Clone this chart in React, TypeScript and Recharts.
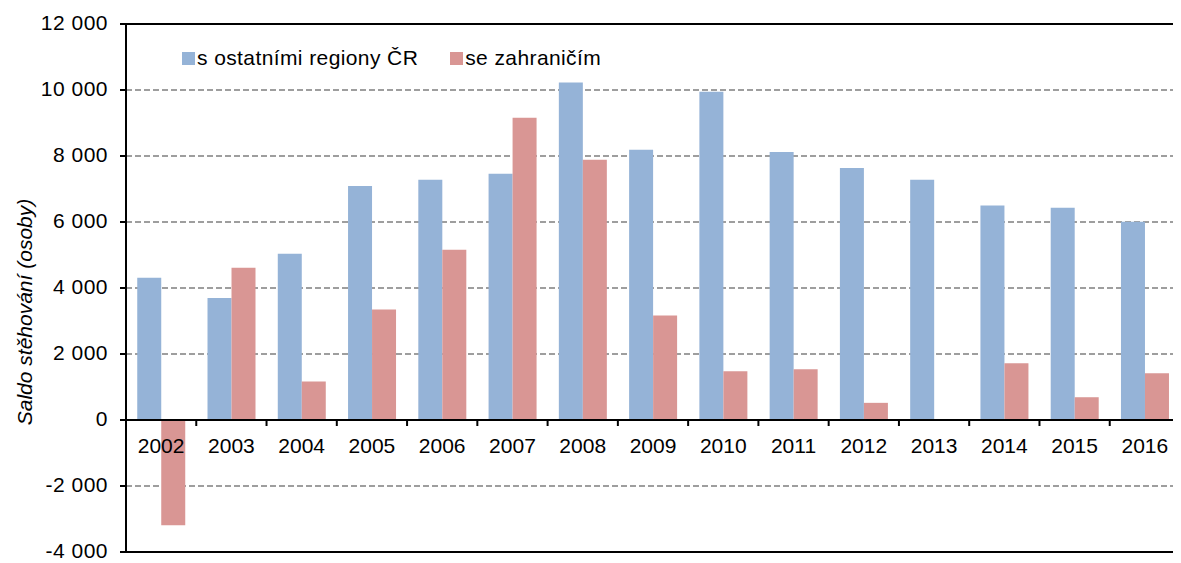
import React from 'react';
import { BarChart, Bar, XAxis, YAxis, CartesianGrid, ReferenceLine } from 'recharts';

const years = ['2002', '2003', '2004', '2005', '2006', '2007', '2008', '2009', '2010', '2011', '2012', '2013', '2014', '2015', '2016'];
const regionsCR = [4310, 3700, 5040, 7090, 7280, 7460, 10230, 8190, 9950, 8120, 7640, 7280, 6500, 6430, 6010];
const abroad = [-3190, 4610, 1170, 3350, 5160, 9160, 7890, 3170, 1480, 1540, 520, 20, 1720, 690, 1420];
const seriesNames = ['s ostatními regiony ČR', 'se zahraničím'];
const seriesColors = ['#95B3D7', '#D99694'];
const yTicks = [-4000, -2000, 0, 2000, 4000, 6000, 8000, 10000, 12000];
const yTitle = 'Saldo stěhování (osoby)';

const Y_MIN = -4000;
const Y_MAX = 12000;
const CHART_W = 1173;
const CHART_H = 555;
const M = { top: 16, right: 1, bottom: 10, left: 0 };
const X_H = 1;
const Y_W = 118;
const PLOT_H = CHART_H - M.top - M.bottom - X_H;
const PLOT_W = CHART_W - M.left - M.right - Y_W;
const ZERO_SHIFT = (PLOT_H * (0 - Y_MIN)) / (Y_MAX - Y_MIN);
const FONT = '"Liberation Sans", Arial, sans-serif';

const data = years.map((y, i) => ({ year: y, regions: regionsCR[i], abroad: abroad[i] }));

const fmt = (v: number) => {
  const s = Math.abs(v).toString().replace(/\B(?=(\d{3})+(?!\d))/g, ' ');
  return (v < 0 ? '-' : '') + s;
};

function XTick(props: any) {
  const { x, y, payload } = props;
  const zy = y - ZERO_SHIFT;
  const half = payload && payload.offset ? payload.offset : PLOT_W / (2 * years.length);
  return (
    <g>
      <line x1={x - half} x2={x - half} y1={zy} y2={zy + 6} stroke="#000" strokeWidth={2} />
      <text x={x} y={zy + 26} dy="0.35em" textAnchor="middle" fontSize={21} fill="#000" fontFamily={FONT}>
        {payload.value}
      </text>
    </g>
  );
}

function YTick(props: any) {
  const { x, y, payload } = props;
  return (
    <text x={x} y={y - 1.5} dy="0.35em" textAnchor="end" fontSize={21} letterSpacing={0.5} fill="#000" fontFamily={FONT}>
      {fmt(payload.value)}
    </text>
  );
}

function YTitle(props: any) {
  const vb = props.viewBox || { x: 0, y: 0, width: 0, height: 0 };
  const cx = vb.x + 16;
  const cy = vb.y + vb.height / 2 + 24;
  return (
    <text
      x={cx}
      y={cy}
      transform={`rotate(-90 ${cx} ${cy})`}
      textAnchor="middle"
      dominantBaseline="central"
      fontSize={21}
      fontStyle="italic"
      fill="#000"
      fontFamily={FONT}
    >
      {yTitle}
    </text>
  );
}

export default function App() {
  return (
    <div style={{ position: 'relative', width: CHART_W, height: CHART_H, fontFamily: FONT }}>
      <BarChart width={CHART_W} height={CHART_H} data={data} margin={M} barCategoryGap="16%" barGap={0}>
        <CartesianGrid vertical={false} stroke="#7f7f7f" strokeDasharray="6 3" strokeWidth={1.5} />
        <YAxis
          domain={[Y_MIN, Y_MAX]}
          ticks={yTicks}
          interval={0}
          width={Y_W}
          allowDataOverflow
          axisLine={{ stroke: '#000', strokeWidth: 2 }}
          tickLine={{ stroke: '#000', strokeWidth: 2 }}
          tickSize={6}
          tickMargin={12}
          tick={<YTick />}
          label={<YTitle />}
        />
        <YAxis
          yAxisId="right"
          orientation="right"
          domain={[Y_MIN, Y_MAX]}
          width={0}
          tick={false}
          tickLine={false}
          axisLine={{ stroke: '#a6a6a6', strokeWidth: 1 }}
        />
        <Bar dataKey="regions" name={seriesNames[0]} fill={seriesColors[0]} isAnimationActive={false} />
        <Bar dataKey="abroad" name={seriesNames[1]} fill={seriesColors[1]} isAnimationActive={false} />
        <ReferenceLine y={0} stroke="#000" strokeWidth={2} />
        <ReferenceLine y={Y_MAX} stroke="#000" strokeWidth={2} />
        <ReferenceLine y={Y_MIN} stroke="#000" strokeWidth={2} />
        <XAxis
          dataKey="year"
          type="category"
          height={X_H}
          interval={0}
          axisLine={false}
          tickLine={false}
          tickSize={0}
          tickMargin={0}
          tick={<XTick />}
        />
      </BarChart>
      <div
        style={{
          position: 'absolute',
          left: 174,
          top: 38,
          display: 'flex',
          alignItems: 'center',
          gap: 32,
          fontSize: 21,
          letterSpacing: 0.4,
          color: '#000',
          fontFamily: FONT,
          lineHeight: '24px',
          whiteSpace: 'nowrap',
        }}
      >
        {seriesNames.map((n, i) => (
          <div key={n} style={{ display: 'flex', alignItems: 'center' }}>
            <span style={{ display: 'inline-block', width: 13, height: 13, background: seriesColors[i], marginRight: 2 }} />
            <span>{n}</span>
          </div>
        ))}
      </div>
    </div>
  );
}
